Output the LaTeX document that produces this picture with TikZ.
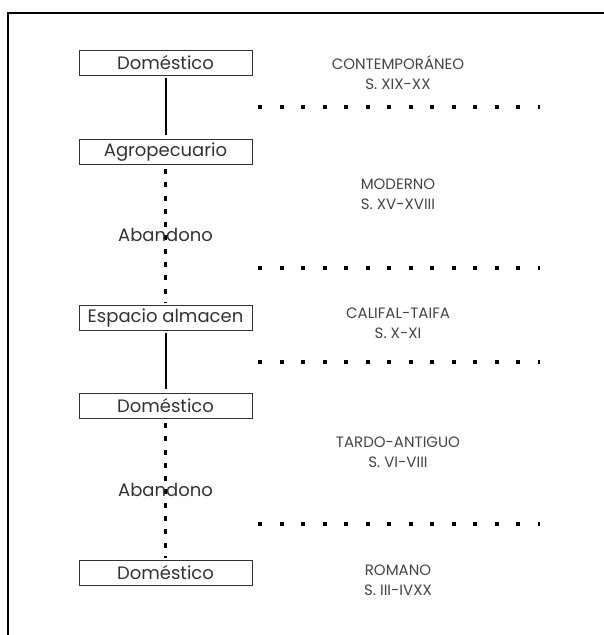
\documentclass[tikz,border=0pt]{standalone}
\usepackage{fontspec}
\setmainfont{Poppins}
\definecolor{tinta}{HTML}{333333}
\definecolor{gris}{HTML}{444444}

\begin{document}
\begin{tikzpicture}[x=1pt, y=-1pt,
    fase/.style={draw=tinta, line width=0.8pt, minimum width=173pt, minimum height=25pt,
        inner sep=0pt, text=tinta, font=\fontsize{18}{18}\selectfont},
    periodo/.style={align=center, text=gris, font=\fontsize{15}{20}\selectfont},
    continuo/.style={draw=black, line width=2pt, shorten <=3pt, shorten >=4pt},
    abandono/.style={draw=black, line width=2.5pt, dash pattern=on 5pt off 8.3pt, shorten <=4pt, shorten >=2pt},
    limite/.style={draw=black, line width=4pt, dash pattern=on 4pt off 17.5pt}]
    \useasboundingbox (0, 0) rectangle (604, 635);
    \draw[line width=2pt] (8, 13) rectangle (650, 680);

    % fases de uso
    \node[fase] (dom1) at (165.5, 62.5) {Doméstico};
    \node[fase] (agro) at (165.5, 152) {Agropecuario};
    \node[fase] (alm)  at (165.5, 317.5) {Espacio almacen};
    \node[fase] (dom2) at (165.5, 406) {Doméstico};
    \node[fase] (dom3) at (165.5, 573) {Doméstico};

    \draw[continuo] (dom1) -- (agro);
    \draw[abandono] (agro) -- node[midway, text=tinta, font=\fontsize{18}{18}\selectfont] (ab1) {Abandono} (alm);
    \draw[continuo] (alm) -- (dom2);
    \draw[abandono] (dom2) -- node[midway, text=tinta, font=\fontsize{18}{18}\selectfont] (ab2) {Abandono} (dom3);

    % limites entre periodos
    \foreach \y in {107, 268, 362, 524}
        \draw[limite] (258, \y) -- (540, \y);

    % periodos
    \foreach \y / \nombre / \siglo in {73/CONTEMPORÁNEO/S. XIX-XX, 194/MODERNO/S. XV-XVIII,
            323/CALIFAL-TAIFA/S. X-XI, 452/TARDO-ANTIGUO/S. VI-VIII, 580/ROMANO/S. III-IVXX}
        \node[periodo] (p\y) at (398, \y) {\nombre\\\siglo};

\end{tikzpicture}
\end{document}
